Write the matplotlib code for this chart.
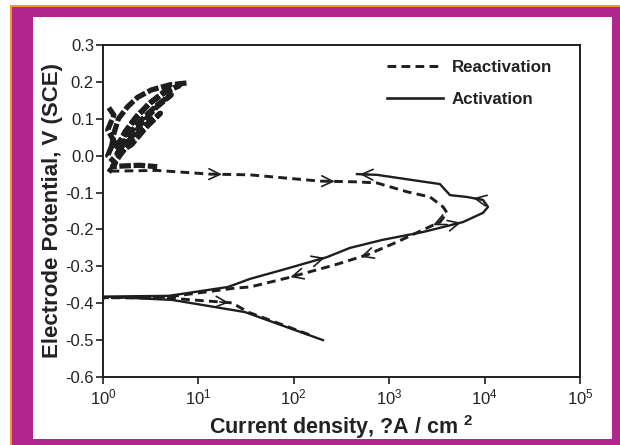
import numpy as np
import matplotlib

matplotlib.use("Agg")

import matplotlib.pyplot as plt
from matplotlib.lines import Line2D
from matplotlib.patches import Rectangle
from matplotlib.ticker import FixedLocator, FormatStrFormatter, NullLocator

plt.rcParams.update(
    {
        "font.family": ["Liberation Sans", "DejaVu Sans"],
        "mathtext.fontset": "custom",
        "mathtext.rm": "Liberation Sans",
        "mathtext.bf": "Liberation Sans:bold",
        "axes.unicode_minus": False,
    }
)

INK = "#1e1e1e"
TEXT = "#222222"
MAGENTA = "#b0268d"
ORANGE = "#f39a2c"

# Activation scan (solid): cathodic end -> Ecorr -> anodic peak -> back
act_current = [202, 30.8, 5.3, 1.0, 4.9, 20.4, 34.8, 75, 223, 388, 861,
               2260, 5940, 9620, 10860, 9620, 6540, 4340, 3400, 745, 459]
act_potential = [-0.500, -0.424, -0.391, -0.382, -0.380, -0.356, -0.334,
                 -0.310, -0.275, -0.250, -0.228, -0.207, -0.180, -0.155,
                 -0.139, -0.120, -0.112, -0.107, -0.077, -0.052, -0.050]

# Reactivation scan (dashed): noisy passive region first
pas_current = [7.5, 5.0, 3.2, 2.3, 1.8, 1.45, 1.3, 1.22,
               1.6, 2.1, 3.0, 4.3, 6.3,
               4.4, 3.2, 2.3, 1.7, 1.35,
               1.8, 2.5, 3.6, 5.2,
               3.8, 2.7, 1.9, 1.4,
               2.0, 2.8, 4.0,
               3.0, 2.1, 1.5, 1.25,
               1.6, 2.4, 3.7]
pas_potential = [0.197, 0.192, 0.178, 0.158, 0.132, 0.100, 0.060, 0.020,
                 0.045, 0.095, 0.140, 0.172, 0.190,
                 0.170, 0.145, 0.110, 0.065, 0.015,
                 0.035, 0.085, 0.130, 0.165,
                 0.140, 0.105, 0.060, 0.005,
                 0.030, 0.075, 0.115,
                 0.090, 0.050, 0.000, -0.030,
                 -0.028, -0.026, -0.030]
edge_current = [1.15, 1.3, 1.12, 1.3, 1.12, 1.35, 1.15]
edge_potential = [0.130, 0.110, 0.070, 0.040, 0.000, -0.020, -0.045]
rea_current = [1.2, 3.68, 13.2, 34.8, 188, 459, 745, 1540, 2680, 3670,
               4040, 3400, 2260, 1210, 585, 270, 87, 34.8, 24.2, 4.8, 1.0,
               4.8, 22.5, 33.1, 155]
rea_potential = [-0.042, -0.040, -0.050, -0.052, -0.069, -0.071, -0.074,
                 -0.098, -0.112, -0.139, -0.155, -0.180, -0.201, -0.234,
                 -0.269, -0.296, -0.331, -0.356, -0.359, -0.383, -0.385,
                 -0.386, -0.399, -0.424, -0.488]

# scan direction markers: (segment index, position along segment)
act_arrows = [(7, 0.95), (11, 0.95), (15, 0.6), (19, 0.85)]
rea_arrows = [(2, 0.3), (4, 0.4), (11, 0.4), (14, 0.2), (15, 0.95), (21, 0.95)]

y_ticks = [0.3, 0.2, 0.1, 0.0, -0.1, -0.2, -0.3, -0.4, -0.5, -0.6]
x_ticks = [1e0, 1e1, 1e2, 1e3, 1e4, 1e5]

fig = plt.figure(figsize=(6.2, 4.45), dpi=100)
fig.patch.set_facecolor("white")

# page frame behind the plot
W, H = 620.0, 445.0
fig.patches.append(Rectangle((10 / W, 0), 1, 1 - 5 / H, transform=fig.transFigure,
                             facecolor=ORANGE, edgecolor="none", zorder=-3))
fig.patches.append(Rectangle((12 / W, 0), 1, 1 - 7 / H, transform=fig.transFigure,
                             facecolor=MAGENTA, edgecolor="none", zorder=-2))
fig.patches.append(Rectangle((33 / W, 1 - 439 / H), (612 - 33) / W, (439 - 17) / H,
                             transform=fig.transFigure, facecolor="white",
                             edgecolor="none", zorder=-1))

ax = fig.add_axes([103 / W, 1 - 377 / H, (580 - 103) / W, (377 - 45) / H])
ax.set_facecolor("none")
ax.set_xscale("log")
ax.set_xlim(1, 1e5)
ax.set_ylim(-0.6, 0.3)

ax.plot(act_current, act_potential, color=INK, lw=1.7, solid_joinstyle="round")
dash_kw = dict(color=INK, lw=2.1, linestyle=(0, (3.0, 1.8)))
noisy_kw = dict(color=INK, lw=3.8, linestyle=(0, (2.2, 0.5)))
ax.plot(pas_current, pas_potential, **noisy_kw)
ax.plot(edge_current, edge_potential, **noisy_kw)
ax.plot(rea_current, rea_potential, **dash_kw)


def add_arrow(xs, ys, seg, frac):
    p0 = ax.transData.transform((xs[seg], ys[seg]))
    p1 = ax.transData.transform((xs[seg + 1], ys[seg + 1]))
    d = (p1 - p0) / np.hypot(*(p1 - p0))
    tip = p0 + frac * (p1 - p0)
    tail = tip - d * 9
    inv = ax.transData.inverted()
    ax.annotate("", xy=inv.transform(tip), xytext=inv.transform(tail),
                arrowprops=dict(arrowstyle="->,head_length=0.5,head_width=0.24",
                                lw=1.2, color=INK, shrinkA=0, shrinkB=0,
                                mutation_scale=16))


for seg, frac in act_arrows:
    add_arrow(act_current, act_potential, seg, frac)
for seg, frac in rea_arrows:
    add_arrow(rea_current, rea_potential, seg, frac)

ax.xaxis.set_major_locator(FixedLocator(x_ticks))
ax.xaxis.set_minor_locator(NullLocator())
ax.yaxis.set_major_locator(FixedLocator(y_ticks))
ax.yaxis.set_major_formatter(FormatStrFormatter("%.1f"))
ax.tick_params(axis="both", direction="out", length=5, width=1.2,
               color=INK, labelsize=12, labelcolor=TEXT, pad=1.5)
ax.tick_params(axis="x", pad=2.5)
for side in ["top", "right", "bottom", "left"]:
    ax.spines[side].set_color(INK)
    ax.spines[side].set_linewidth(1.4)

ax.set_ylabel("Electrode Potential, V (SCE)", fontsize=16, fontweight="bold",
              color=TEXT, labelpad=1.5)
ax.set_xlabel(r"Current density, ?A / cm $^{\mathbf{2}}$", fontsize=15.5,
              fontweight="bold", color=TEXT, labelpad=4)

handles = [
    Line2D([], [], color=INK, lw=2.1, linestyle=(0, (3.0, 1.8))),
    Line2D([], [], color=INK, lw=1.9),
]
leg = ax.legend(handles, ["Reactivation", "Activation"], loc="upper left",
                bbox_to_anchor=(0.595, 0.956), frameon=False, borderpad=0,
                borderaxespad=0, handlelength=3.3, handletextpad=0.55,
                labelspacing=1.05, prop={"size": 12.2, "weight": "bold"})
for text in leg.get_texts():
    text.set_color(TEXT)

fig.savefig("out.png", dpi=100, facecolor=fig.get_facecolor())
